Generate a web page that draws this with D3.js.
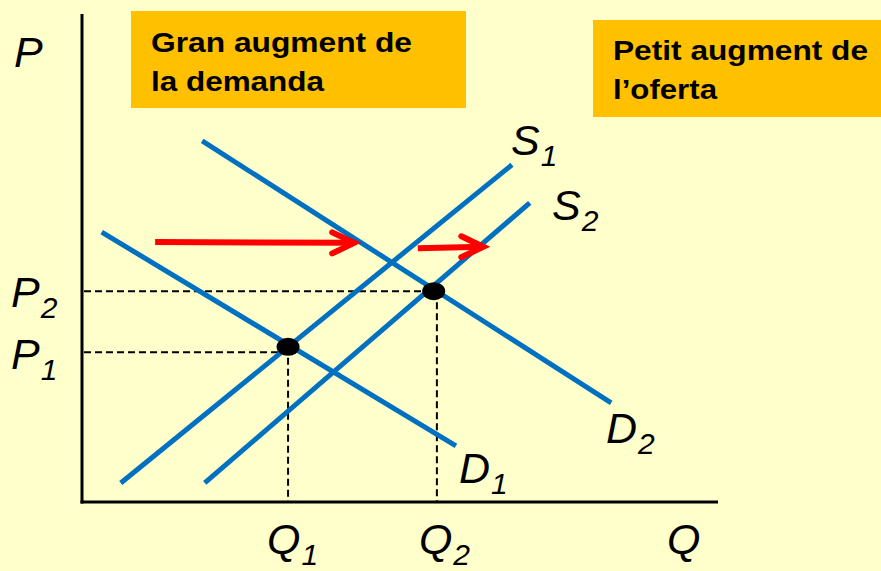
<!DOCTYPE html>
<html>
<head>
<meta charset="utf-8">
<script src="https://cdn.jsdelivr.net/npm/d3@7"></script>
<style>
  html, body { margin: 0; padding: 0; background: #FFFFCC; }
  svg { display: block; }
  .lbl { font-family: "Liberation Sans", Arial, sans-serif; font-style: italic; font-size: 43px; fill: #000; }
  .box-text { font-family: "Liberation Sans", Arial, sans-serif; font-weight: bold; font-size: 28px; fill: #000; }
</style>
</head>
<body>
<div id="chart"></div>
<script>
// Curves in (quantity, price) units: [start, end]
const supply1 = [[0.61, 0.39], [6.76, 6.91]];
const supply2 = [[1.93, 0.39], [7.04, 6.13]];
const demand1 = [[0.31, 5.53], [5.88, 1.15]];
const demand2 = [[1.89, 7.40], [8.32, 2.03]];

// Equilibrium points
const equilibria = [[3.24, 3.18], [5.53, 4.32]];

// Price / quantity levels for the dashed guides
const priceLevels = [3.07, 4.32];   // P1, P2
const qtyLevels = [3.24, 5.58];     // Q1, Q2

// Shift arrows
const shiftArrows = [
  [[1.15, 5.33], [4.28, 5.31]],
  [[5.28, 5.20], [6.31, 5.23]]
];

const width = 881;
const height = 571;

const x = d3.scaleLinear().domain([0, 10]).range([82, 718]);
const y = d3.scaleLinear().domain([0, 10]).range([502, 14]);

const svg = d3.select("#chart")
  .append("svg")
  .attr("width", width)
  .attr("height", height);

svg.append("rect")
  .attr("width", width)
  .attr("height", height)
  .attr("fill", "#FFFFCC");

// Text boxes
const boxes = [
  { x: 131, y: 11, w: 335, h: 97, lines: ["Gran augment de", "la demanda"], base: [52, 91], len: [261, 173] },
  { x: 593, y: 20, w: 300, h: 97, lines: ["Petit augment de", "l\u2019oferta"], base: [60, 99], len: [255, 104] }
];
boxes.forEach(b => {
  svg.append("rect")
    .attr("x", b.x).attr("y", b.y)
    .attr("width", b.w).attr("height", b.h)
    .attr("fill", "#FFC000");
  b.lines.forEach((t, i) => {
    svg.append("text")
      .attr("class", "box-text")
      .attr("x", b.x + 20)
      .attr("y", b.base[i])
      .attr("textLength", b.len[i])
      .attr("lengthAdjust", "spacingAndGlyphs")
      .text(t);
  });
});

// Dashed guides
const dash = "7,4";
priceLevels.forEach((p, i) => {
  svg.append("line")
    .attr("x1", x(0) + 2).attr("x2", x(qtyLevels[i]))
    .attr("y1", y(p)).attr("y2", y(p))
    .attr("stroke", "#000").attr("stroke-width", 2)
    .attr("stroke-dasharray", dash);
});
qtyLevels.forEach((q, i) => {
  svg.append("line")
    .attr("x1", x(q)).attr("x2", x(q))
    .attr("y1", y(equilibria[i][1])).attr("y2", y(0))
    .attr("stroke", "#000").attr("stroke-width", 2)
    .attr("stroke-dasharray", dash);
});

// Supply and demand curves
const line = d3.line().x(d => x(d[0])).y(d => y(d[1]));
[supply1, supply2, demand1, demand2].forEach(c => {
  svg.append("path")
    .attr("d", line(c))
    .attr("fill", "none")
    .attr("stroke", "#0070C0")
    .attr("stroke-width", 5);
});

// Red shift arrows
shiftArrows.forEach(a => {
  svg.append("path")
    .attr("d", line(a))
    .attr("stroke", "#FF0000")
    .attr("stroke-width", 6)
    .attr("fill", "none");
  const tx = x(a[1][0]), ty = y(a[1][1]);
  svg.append("path")
    .attr("d", `M${tx - 22},${ty - 10.5}L${tx},${ty}L${tx - 22},${ty + 10.5}`)
    .attr("stroke", "#FF0000")
    .attr("stroke-width", 6)
    .attr("stroke-linecap", "round")
    .attr("fill", "none");
});

// Equilibrium dots
svg.selectAll(".eq")
  .data(equilibria)
  .enter()
  .append("ellipse")
  .attr("class", "eq")
  .attr("cx", d => x(d[0]))
  .attr("cy", d => y(d[1]))
  .attr("rx", 11.5)
  .attr("ry", 9)
  .attr("fill", "#000");

// Axes
svg.append("line")
  .attr("x1", x(0)).attr("x2", x(0))
  .attr("y1", y(10)).attr("y2", y(0) + 1.5)
  .attr("stroke", "#000").attr("stroke-width", 3);
svg.append("line")
  .attr("x1", x(0) - 1.5).attr("x2", x(10))
  .attr("y1", y(0)).attr("y2", y(0))
  .attr("stroke", "#000").attr("stroke-width", 3);

// Labels with subscripts
function label(px, py, main, sub) {
  const t = svg.append("text").attr("class", "lbl").attr("x", px).attr("y", py);
  t.append("tspan").text(main);
  if (sub) {
    t.append("tspan")
      .attr("font-size", 30)
      .attr("dx", 1)
      .attr("dy", 11)
      .text(sub);
  }
}

label(14, 67, "P");
label(11, 307, "P", "2");
label(11, 369, "P", "1");
label(x(qtyLevels[0]) - 21, 554, "Q", "1");
label(x(qtyLevels[1]) - 18, 554, "Q", "2");
label(667, 554, "Q");
label(511, 155, "S", "1");
label(552, 220, "S", "2");
label(459, 483, "D", "1");
label(606, 443, "D", "2");
</script>
</body>
</html>
